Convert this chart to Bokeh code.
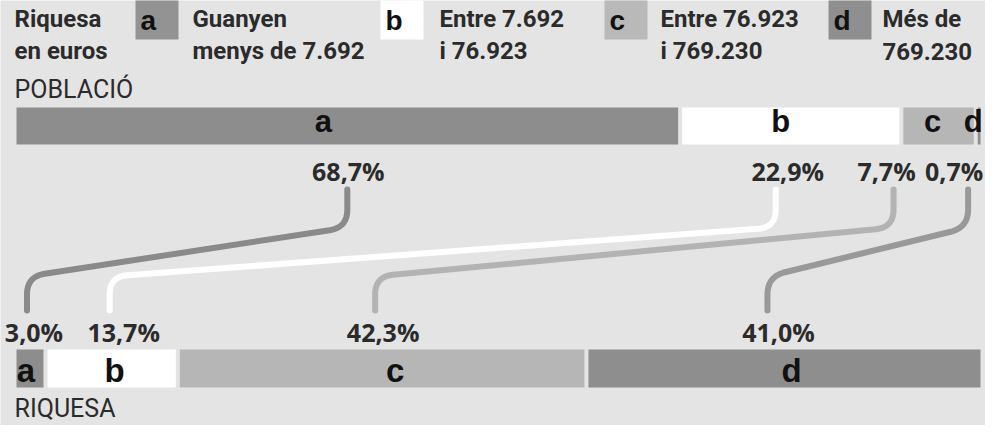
import numpy as np
from bokeh.plotting import figure
from bokeh.models import Range1d
from bokeh.core.properties import value
from bokeh.embed import file_html
from bokeh.resources import INLINE

# ---------------- data ----------------
categories = ["a", "b", "c", "d"]
poblacio = [68.7, 22.9, 7.7, 0.7]          # % of population
riquesa = [3.0, 13.7, 42.3, 41.0]          # % of wealth
poblacio_labels = ["68,7%", "22,9%", "7,7%", "0,7%"]
riquesa_labels = ["3,0%", "13,7%", "42,3%", "41,0%"]
legend_line1 = ["Guanyen", "Entre 7.692", "Entre 76.923", "Més de"]
legend_line2 = ["menys de 7.692", "i 76.923", "i 769.230", "769.230"]
title_lines = ["Riquesa", "en euros"]
row_titles = ["POBLACIÓ", "RIQUESA"]

# ---------------- style / layout ----------------
bar_colors = ["#8d8d8d", "#ffffff", "#b6b6b6", "#8e8e8e"]
legend_colors = ["#939393", "#ffffff", "#b9b9b9", "#8f8f8f"]
link_colors = ["#8a8a8a", "#ffffff", "#b3b3b3", "#999999"]
BG = "#e4e4e4"
TXT = "#2b2b2b"
LEG_FONT = "Roboto"

W, H, M = 985, 425, 8
X0 = 24.0      # pixel where 0 % sits
K = 9.66       # pixels per percent
BASE = 0.35    # baseline correction (fraction of font size)


def pu(v):
    """pixel position -> percent units"""
    return (np.asarray(v, dtype=float) - X0) / K


def du(v):
    """pixel distance -> percent units"""
    return np.asarray(v, dtype=float) / K


def by(baselines, fs):
    """wanted baseline (px) -> y to give the text glyph"""
    return list(np.asarray(baselines, dtype=float) - BASE * fs)


p = figure(width=W, height=H,
           x_range=Range1d(float(pu(M)), float(pu(M + W))),
           y_range=Range1d(M + H, M),
           output_backend="svg", toolbar_location=None,
           x_axis_location=None, y_axis_location=None,
           min_border=0, background_fill_color=BG, border_fill_color=BG,
           outline_line_color=None)
p.grid.visible = False


def segs(vals):
    v = np.array(vals, dtype=float)
    e = np.cumsum(v)
    return e - v, e


gap = du(2.0)
top_bar = (115, 152)
bot_bar = (357, 395)

ps, pe = segs(poblacio)
rs, re_ = segs(riquesa)

for s, e, (yt, yb) in [(ps, pe, top_bar), (rs, re_, bot_bar)]:
    left = s + gap
    left[0] = s[0]
    right = e - gap
    p.quad(left=left, right=right, top=yt, bottom=yb,
           fill_color=bar_colors, line_color=None)

# letters inside bars
top_letter_nudge = du([-25, -10, -6, -6])
bot_letter_nudge = du([-5, 3, 13, 7])
p.text(x=(ps + pe) / 2 + top_letter_nudge, y=by([140] * 4, 31), text=categories,
       text_font=value("Liberation Sans"), text_font_style="bold",
       text_font_size="31px", text_align="center", text_baseline="alphabetic",
       text_color="#111111")
p.text(x=(rs + re_) / 2 + bot_letter_nudge, y=by([390] * 4, 33), text=categories,
       text_font=value("Liberation Sans"), text_font_style="bold",
       text_font_size="33px", text_align="center", text_baseline="alphabetic",
       text_color="#111111")

# percentage labels
LFS = 25
top_label_nudge = du([0, -3, -52, -25])
bot_label_nudge = du([3, 12, 1, -6])
tlx = (ps + pe) / 2 + top_label_nudge
blx = (rs + re_) / 2 + bot_label_nudge
p.text(x=tlx, y=by([187] * 4, LFS), text=poblacio_labels,
       text_font=value("Open Sans"), text_font_style="bold",
       text_font_size=f"{LFS}px", text_align="center", text_baseline="alphabetic",
       text_color=TXT)
p.text(x=blx, y=by([348] * 4, LFS), text=riquesa_labels,
       text_font=value("Open Sans"), text_font_style="bold",
       text_font_size=f"{LFS}px", text_align="center", text_baseline="alphabetic",
       text_color=TXT)

# connectors (rounded elbow paths)
top_anchor_nudge = [-1, -12, 7, 14]
bot_anchor_nudge = [-7, -14, -8, -11]
Y_TOP, Y_C1, Y_C2, Y_BOT = 197, 235, 284, 318
R = 18.0


def bez(a, c, b, n=14):
    t = np.linspace(0, 1, n)[:, None]
    return (1 - t) ** 2 * a + 2 * (1 - t) * t * c + t ** 2 * b


for i in range(4):
    xt = X0 + tlx[i] * K + top_anchor_nudge[i]
    xb = X0 + blx[i] * K + bot_anchor_nudge[i]
    P0 = np.array([xt, Y_TOP])
    P1 = np.array([xt, Y_C1])
    P2 = np.array([xb, Y_C2])
    P3 = np.array([xb, Y_BOT])
    d01 = (P1 - P0) / np.linalg.norm(P1 - P0)
    d12 = (P2 - P1) / np.linalg.norm(P2 - P1)
    d23 = (P3 - P2) / np.linalg.norm(P3 - P2)
    c1 = bez(P1 - R * d01, P1, P1 + R * d12)
    c2 = bez(P2 - R * d12, P2, P2 + R * d23)
    pts = np.vstack([P0, c1, c2, P3])
    p.line(x=pu(pts[:, 0]), y=pts[:, 1], line_color=link_colors[i],
           line_width=6, line_cap="round", line_join="round")

# legend
box_left = np.array([143, 388, 612, 836])
box_w = 43
p.quad(left=pu(box_left), right=pu(box_left + box_w), top=7, bottom=47,
       fill_color=legend_colors, line_color=None)
p.text(x=pu(box_left + 5), y=by([38, 38, 38, 38], 28), text=categories,
       text_font=value("Liberation Sans"), text_font_style="bold",
       text_font_size="28px", text_align="left", text_baseline="alphabetic",
       text_color="#111111")
GFS = 24
legend_text_x = pu([200, 447, 668, 890])
p.text(x=legend_text_x, y=by([35] * 4, GFS), text=legend_line1,
       text_font=value(LEG_FONT), text_font_style="bold",
       text_font_size=f"{GFS}px", text_align="left", text_baseline="alphabetic",
       text_color=TXT)
p.text(x=legend_text_x, y=by([67] * 4, GFS), text=legend_line2,
       text_font=value(LEG_FONT), text_font_style="bold",
       text_font_size=f"{GFS}px", text_align="left", text_baseline="alphabetic",
       text_color=TXT)
p.text(x=pu([22, 22]), y=by([35, 67], GFS), text=title_lines,
       text_font=value(LEG_FONT), text_font_style="bold",
       text_font_size=f"{GFS}px", text_align="left", text_baseline="alphabetic",
       text_color=TXT)
p.text(x=pu([22, 22]), y=by([106, 425], 25), text=row_titles,
       text_font=value(LEG_FONT), text_font_style="normal",
       text_font_size="25px", text_align="left", text_baseline="alphabetic",
       text_color=TXT)

open("out.html", "w").write(file_html(p, INLINE))
